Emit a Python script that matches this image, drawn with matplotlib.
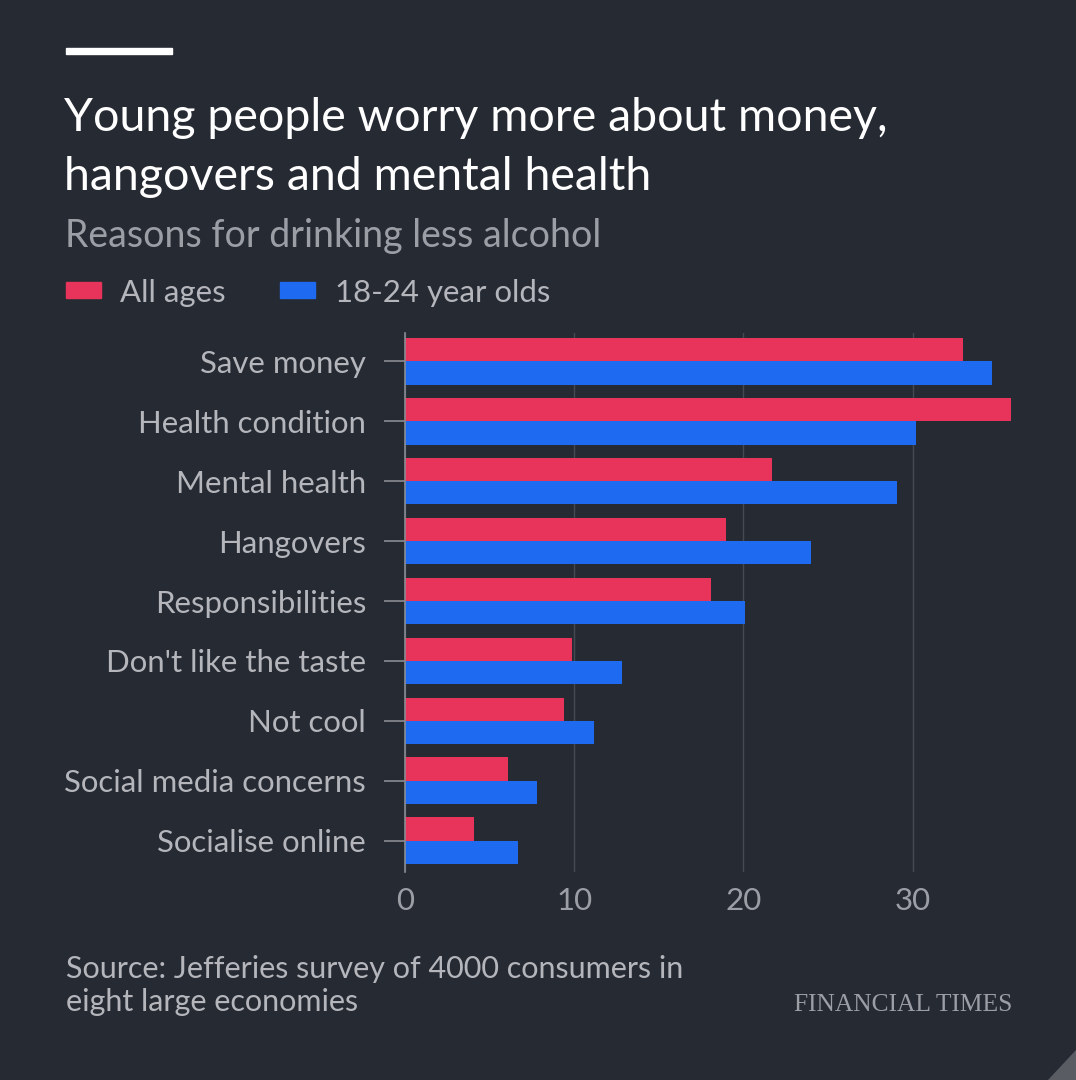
import matplotlib
matplotlib.use("Agg")
import matplotlib.pyplot as plt
from matplotlib.patches import Rectangle, Polygon
import numpy as np

categories = ["Save money", "Health condition", "Mental health", "Hangovers",
              "Responsibilities", "Don't like the taste", "Not cool",
              "Social media concerns", "Socialise online"]
all_ages = [33.0, 35.8, 21.7, 19.0, 18.1, 9.9, 9.4, 6.1, 4.1]
young = [34.7, 30.2, 29.1, 24.0, 20.1, 12.8, 11.2, 7.8, 6.7]
series_names = ["All ages", "18-24 year olds"]
xticks = [0, 10, 20, 30]

BG = "#262a33"
RED = "#e8335a"
BLUE = "#1e6af0"
GRID = "#464951"
LABEL = "#b4b6bc"
SUB = "#9c9ea5"

plt.rcParams['font.family'] = ['Lato', 'DejaVu Sans']

W, H = 1076, 1080
fig = plt.figure(figsize=(W/100, H/100), dpi=100, facecolor=BG)

def fx(px): return px / W
def fy(py): return 1 - py / H

# top white bar
fig.patches.append(Rectangle((fx(66), fy(54)), fx(172) - fx(66), 6/H,
                             transform=fig.transFigure, color="white", zorder=5))

fig.text(fx(64), fy(131), "Young people worry more about money,", color="white",
         fontsize=33.5, va="baseline", ha="left")
fig.text(fx(64), fy(190), "hangovers and mental health", color="white",
         fontsize=33.5, va="baseline", ha="left")
fig.text(fx(65), fy(247), "Reasons for drinking less alcohol", color=SUB,
         fontsize=27, va="baseline", ha="left")

# legend
fig.patches.append(Rectangle((fx(66), fy(298)), 35/W, 16/H, transform=fig.transFigure,
                             color=RED))
fig.text(fx(120), fy(302), series_names[0], color=LABEL, fontsize=22.4, va="baseline")
fig.patches.append(Rectangle((fx(280), fy(298)), 35/W, 16/H, transform=fig.transFigure,
                             color=BLUE))
fig.text(fx(335), fy(302), series_names[1], color=LABEL, fontsize=22.4, va="baseline")

# axes
left, right = fx(405), fx(1014)
bottom, top = fy(872), fy(333)
ax = fig.add_axes([left, bottom, right - left, top - bottom])
ax.set_facecolor(BG)

y = np.arange(len(categories))
h = 0.39
ax.barh(y - h/2, all_ages, height=h, color=RED, zorder=3)
ax.barh(y + h/2, young, height=h, color=BLUE, zorder=3)

ax.set_xlim(0, 36)
ax.set_ylim(8.52, -0.47)
ax.set_yticks(y)
ax.set_yticklabels(categories)
ax.set_xticks(xticks)
ax.set_xticklabels([str(t) for t in xticks])
ax.grid(axis="x", color=GRID, linewidth=1, zorder=0)
for s in ["top", "right", "bottom"]:
    ax.spines[s].set_visible(False)
ax.spines["left"].set_color("#8a8c93")
ax.spines["left"].set_linewidth(1.2)
ax.spines["left"].set_zorder(4)
ax.tick_params(axis="y", length=15, width=1.2, color="#8a8c93", pad=13,
               labelsize=22.4, labelcolor=LABEL)
ax.tick_params(axis="x", length=0, pad=11, labelsize=22.5, labelcolor=SUB)

fig.text(fx(66), fy(978), "Source: Jefferies survey of 4000 consumers in", color=LABEL,
         fontsize=22, va="baseline")
fig.text(fx(66), fy(1011), "eight large economies", color=LABEL,
         fontsize=22, va="baseline")
fig.text(fx(1012), fy(1011), "FINANCIAL TIMES", color=SUB, fontsize=18.4,
         family=["Liberation Serif", "DejaVu Serif"], ha="right", va="baseline")

fig.patches.append(Polygon([[fx(1048), 0], [1, 0], [1, fy(1050)]], closed=True,
                           transform=fig.transFigure, color="#5a5c63"))

fig.savefig("out.png", dpi=100, facecolor=BG)
